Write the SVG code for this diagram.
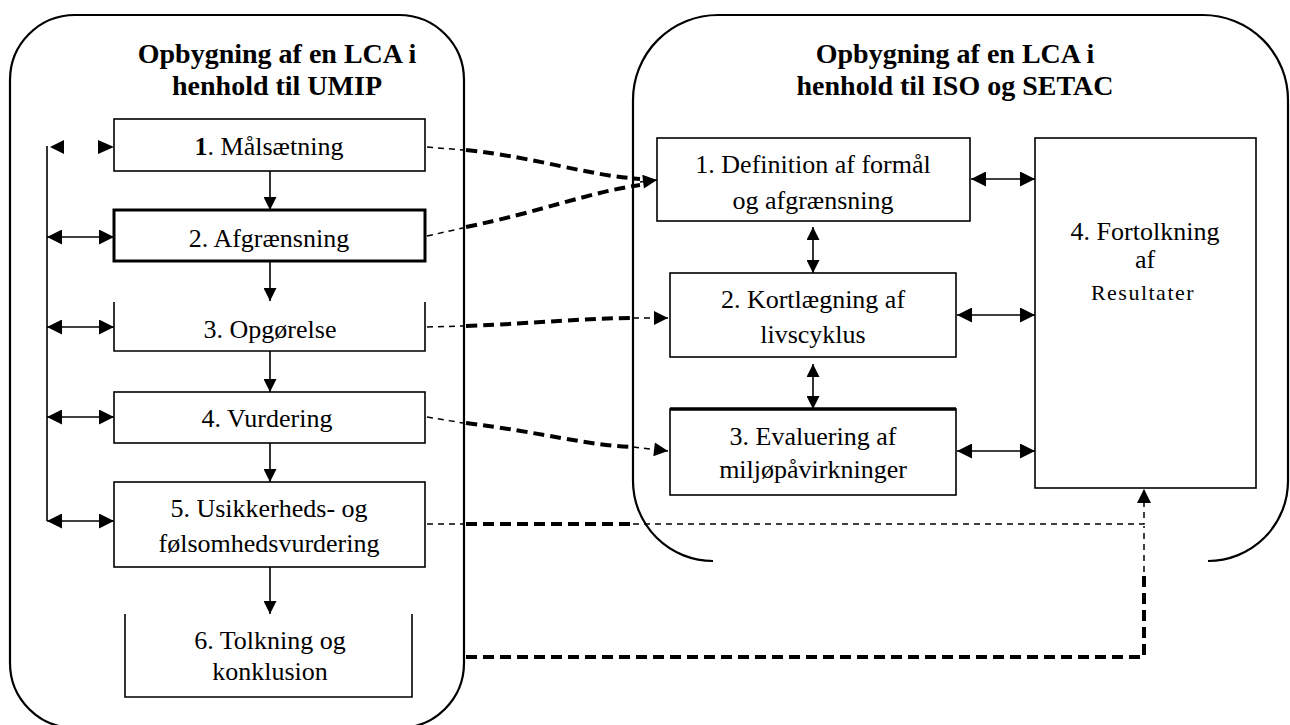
<svg xmlns="http://www.w3.org/2000/svg" width="1290" height="725" viewBox="0 0 1290 725">
<style>
.cont{fill:none;stroke:#000;stroke-width:2.2}
.box{fill:#fff;stroke:#000;stroke-width:1.6}
.boxb{fill:#fff;stroke:#000;stroke-width:3}
.open{fill:none;stroke:#000;stroke-width:1.6}
.t{font-family:"Liberation Serif","Times New Roman",serif;font-size:26px;fill:#000;text-anchor:middle}
.tt{font-family:"Liberation Serif","Times New Roman",serif;font-size:28px;font-weight:bold;fill:#000;text-anchor:middle}
.ln{fill:none;stroke:#000;stroke-width:1.6}
.thin{fill:none;stroke:#000;stroke-width:1.5;stroke-dasharray:6 5}
.thick{fill:none;stroke:#000;stroke-width:4;stroke-dasharray:11 6}
</style>
<defs>
<marker id="ah" viewBox="0 0 10 10" refX="10" refY="5" markerUnits="userSpaceOnUse" markerWidth="16" markerHeight="15" orient="auto-start-reverse">
<path d="M0,0 L10,5 L0,10 z" fill="#000"/>
</marker>
<marker id="ahs" viewBox="0 0 10 10" refX="10" refY="5" markerUnits="userSpaceOnUse" markerWidth="13" markerHeight="13" orient="auto-start-reverse">
<path d="M0,0 L10,5 L0,10 z" fill="#000"/>
</marker>
<marker id="ahd" viewBox="0 0 10 10" refX="10" refY="5" markerUnits="userSpaceOnUse" markerWidth="16" markerHeight="14" orient="auto">
<path d="M0,0 L10,5 L0,10 z" fill="#000"/>
</marker>
</defs>
<rect width="1290" height="725" fill="#fff"/>

<g id="umip-container">
<rect class="cont" x="10" y="15" width="454" height="713" rx="65" ry="65"/>
<text class="tt" x="277" y="63">Opbygning af en LCA i</text>
<text class="tt" x="277" y="95">henhold til UMIP</text>
</g>

<g id="iso-container">
<path class="cont" d="M713,561 A80,80 0 0 1 633,481 V100 A85,85 0 0 1 718,15 H1203 A85,85 0 0 1 1288,100 V481 A80,80 0 0 1 1208,561"/>
<text class="tt" x="955" y="63">Opbygning af en LCA i</text>
<text class="tt" x="955" y="95">henhold til ISO og SETAC</text>
</g>

<g id="u1">
<rect class="box" x="114" y="119" width="311" height="52"/>
<text class="t" x="269" y="155"><tspan font-weight="bold">1</tspan>. Målsætning</text>
</g>
<g id="u2">
<rect class="boxb" x="114" y="210" width="311" height="51"/>
<text class="t" x="269" y="247">2. Afgrænsning</text>
</g>
<g id="u3">
<path class="open" d="M114,302 V351 H425 V302"/>
<text class="t" x="270" y="338">3. Opgørelse</text>
</g>
<g id="u4">
<rect class="box" x="114" y="392" width="311" height="51"/>
<text class="t" x="267" y="427">4. Vurdering</text>
</g>
<g id="u5">
<rect class="box" x="114" y="482" width="311" height="85"/>
<text class="t" x="269" y="517">5. Usikkerheds- og</text>
<text class="t" x="269" y="552">følsomhedsvurdering</text>
</g>
<g id="u6">
<path class="open" d="M125,614 V697 H412 V614"/>
<text class="t" x="270" y="649">6. Tolkning og</text>
<text class="t" x="270" y="680">konklusion</text>
</g>

<g id="i1">
<rect class="box" x="657" y="138" width="313" height="83"/>
<text class="t" x="813" y="173">1. Definition af formål</text>
<text class="t" x="813" y="209">og afgrænsning</text>
</g>
<g id="i2">
<rect class="box" x="670" y="273" width="286" height="84"/>
<text class="t" x="813" y="308">2. Kortlægning af</text>
<text class="t" x="813" y="343">livscyklus</text>
</g>
<g id="i3">
<rect class="box" x="670" y="409" width="286" height="86"/>
<line x1="670" y1="409" x2="956" y2="409" stroke="#000" stroke-width="3.5"/>
<text class="t" x="813" y="445">3. Evaluering af</text>
<text class="t" x="813" y="478">miljøpåvirkninger</text>
</g>
<g id="i4">
<rect class="box" x="1035" y="138" width="221" height="350"/>
<text class="t" x="1145" y="240">4. Fortolkning</text>
<text class="t" x="1145" y="268">af</text>
<text class="t" x="1143" y="300" style="font-size:22px;letter-spacing:1.5px">Resultater</text>
</g>

<g id="connectors">
<line class="ln" x1="47" y1="146" x2="47" y2="521"/>
<path d="M50,147 L64,140 L64,154 z" fill="#000"/>
<path d="M114,147 L98,140 L98,154 z" fill="#000"/>
<line class="ln" x1="47" y1="237" x2="114" y2="237" marker-start="url(#ah)" marker-end="url(#ah)"/>
<line class="ln" x1="47" y1="327" x2="114" y2="327" marker-start="url(#ah)" marker-end="url(#ah)"/>
<line class="ln" x1="47" y1="417" x2="114" y2="417" marker-start="url(#ah)" marker-end="url(#ah)"/>
<line class="ln" x1="47" y1="521" x2="114" y2="521" marker-start="url(#ah)" marker-end="url(#ah)"/>
<line class="ln" x1="270" y1="171" x2="270" y2="210" marker-end="url(#ahs)"/>
<line class="ln" x1="270" y1="261" x2="270" y2="301" marker-end="url(#ahs)"/>
<line class="ln" x1="270" y1="351" x2="270" y2="392" marker-end="url(#ahs)"/>
<line class="ln" x1="270" y1="443" x2="270" y2="482" marker-end="url(#ahs)"/>
<line class="ln" x1="270" y1="567" x2="270" y2="614" marker-end="url(#ahs)"/>
<line class="ln" x1="813" y1="227" x2="813" y2="273" marker-start="url(#ahs)" marker-end="url(#ahs)"/>
<line class="ln" x1="813" y1="364" x2="813" y2="409" marker-start="url(#ahs)" marker-end="url(#ahs)"/>
<line class="ln" x1="971" y1="179" x2="1035" y2="179" marker-start="url(#ah)" marker-end="url(#ah)"/>
<line class="ln" x1="957" y1="315" x2="1035" y2="315" marker-start="url(#ah)" marker-end="url(#ah)"/>
<line class="ln" x1="957" y1="451" x2="1035" y2="451" marker-start="url(#ah)" marker-end="url(#ah)"/>
<path class="thin" d="M427,147 L463,150"/>
<path class="thick" d="M466,150 C540,158 585,175 640,179"/>
<path class="thin" d="M427,236 L463,228"/>
<path class="thick" d="M466,227 C540,212 590,192 640,185"/>
<path class="ln" d="M640,182 L657,180" marker-end="url(#ahd)"/>
<path class="thin" d="M427,327 L463,326"/>
<path class="thick" d="M466,326 C540,323 590,318 633,318"/>
<path class="thin" d="M633,318 L668,318" marker-end="url(#ahd)"/>
<path class="thin" d="M427,417 L463,423"/>
<path class="thick" d="M466,423 C540,432 590,446 633,447"/>
<path class="thin" d="M633,447 L668,451" marker-end="url(#ahd)"/>
<path class="thin" d="M427,524 L463,524"/>
<path class="thick" d="M466,524 L633,524"/>
<path class="thin" d="M633,524 H1144 V489" marker-end="url(#ahd)"/>
<path class="thick" d="M466,657 H1144 V572"/>
<path class="thin" d="M1144,572 V526"/>
</g>
</svg>
